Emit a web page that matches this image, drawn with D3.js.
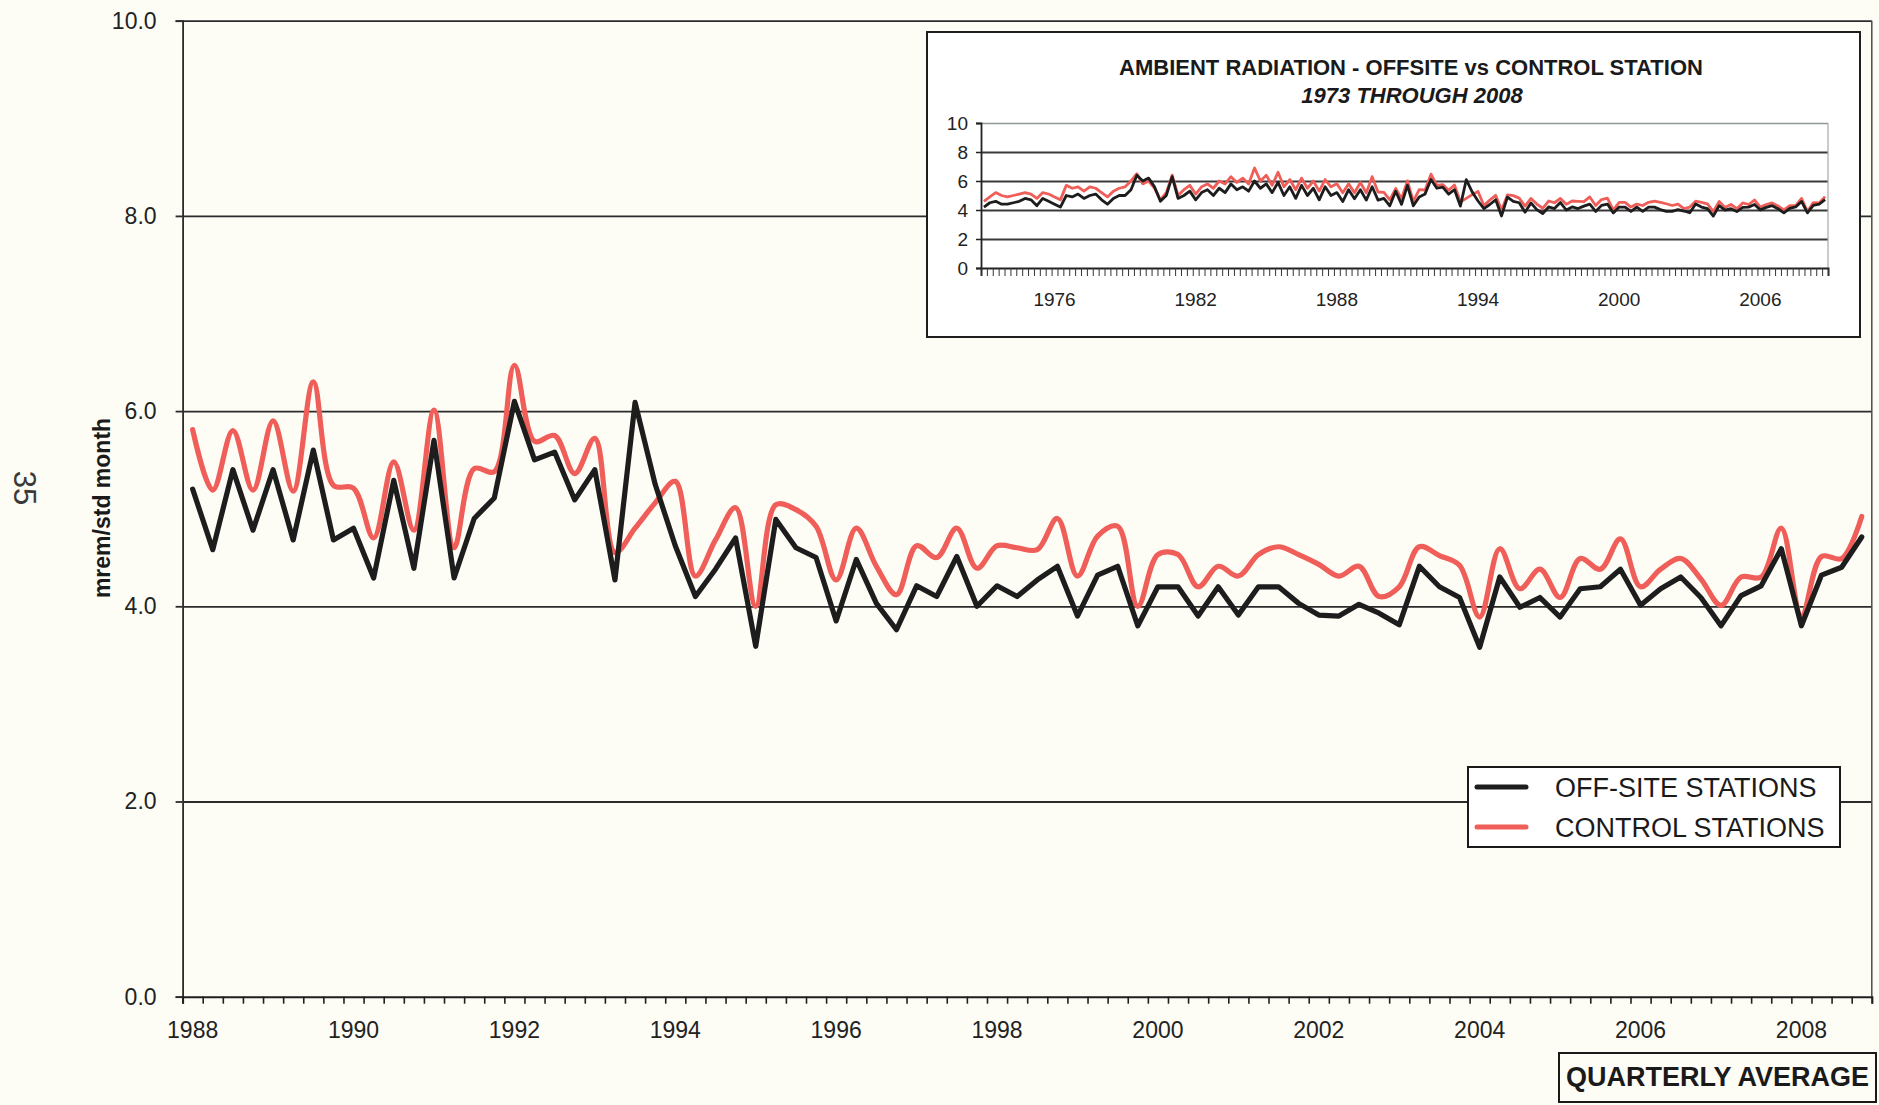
<!DOCTYPE html>
<html>
<head>
<meta charset="utf-8">
<script src="https://cdn.jsdelivr.net/npm/d3@7"></script>
<style>
  html, body { margin: 0; padding: 0; background: #fdfdf6; }
  svg { display: block; font-family: "Liberation Sans", Arial, Helvetica, sans-serif; }
</style>
</head>
<body>
<svg id="chart" width="1879" height="1105"></svg>
<script>
// ---- data ------------------------------------------------------------------
const quarterNames = ["Q1", "Q2", "Q3", "Q4"];
const mainYears = d3.range(1988, 2009);          // 1988 .. 2008
const insetYears = d3.range(1973, 2009);         // 1973 .. 2008

// Quarterly averages, mrem/std month, 1988 Q1 .. 2008 Q4
const offsite1988to2008 = [
  5.20, 4.58, 5.40, 4.78, 5.40, 4.68, 5.60, 4.68, 4.80, 4.29,
  5.29, 4.39, 5.70, 4.29, 4.90, 5.11, 6.10, 5.50, 5.58, 5.09,
  5.40, 4.27, 6.09, 5.25, 4.62, 4.10, 4.38, 4.70, 3.59, 4.89,
  4.60, 4.50, 3.85, 4.48, 4.03, 3.76, 4.21, 4.10, 4.51, 4.00,
  4.21, 4.10, 4.27, 4.41, 3.90, 4.32, 4.41, 3.80, 4.20, 4.20,
  3.90, 4.20, 3.91, 4.20, 4.20, 4.03, 3.91, 3.90, 4.02, 3.93,
  3.81, 4.41, 4.20, 4.09, 3.58, 4.30, 3.99, 4.09, 3.89, 4.18,
  4.20, 4.38, 4.01, 4.18, 4.30, 4.09, 3.80, 4.11, 4.21, 4.59,
  3.80, 4.32, 4.40, 4.71
];
const control1988to2008 = [
  5.81, 5.19, 5.80, 5.19, 5.90, 5.18, 6.30, 5.24, 5.21, 4.70,
  5.48, 4.78, 6.01, 4.60, 5.41, 5.38, 6.47, 5.69, 5.75, 5.36,
  5.72, 4.55, 4.80, 5.06, 5.28, 4.31, 4.68, 5.01, 4.00, 5.04,
  4.99, 4.82, 4.27, 4.80, 4.41, 4.12, 4.62, 4.50, 4.80, 4.39,
  4.62, 4.60, 4.58, 4.90, 4.31, 4.72, 4.82, 4.00, 4.53, 4.53,
  4.20, 4.41, 4.31, 4.53, 4.61, 4.53, 4.43, 4.31, 4.41, 4.10,
  4.20, 4.61, 4.52, 4.42, 3.89, 4.59, 4.18, 4.38, 4.09, 4.49,
  4.38, 4.69, 4.20, 4.38, 4.49, 4.28, 4.01, 4.30, 4.30, 4.80,
  3.90, 4.51, 4.49, 4.92
];

// Earlier record shown only in the long-term panel, 1973 Q1 .. 1987 Q4
const offsite1973to1987 = [
  4.2, 4.5, 4.6, 4.4,  4.4, 4.5, 4.6, 4.8,  4.7, 4.3, 4.8, 4.6,
  4.4, 4.2, 5.0, 4.9,  5.1, 4.8, 5.0, 5.1,  4.7, 4.4, 4.8, 5.0,
  5.0, 5.4, 6.4, 6.0,  6.2, 5.6, 4.6, 5.0,  6.3, 4.8, 5.0, 5.3,
  4.7, 5.2, 5.4, 5.0,  5.5, 5.2, 5.8, 5.4,  5.6, 5.3, 6.0, 5.5,
  5.8, 5.2, 5.9, 5.0,  5.6, 4.8, 5.7, 5.0,  5.5, 4.7, 5.6, 5.0
];
const control1973to1987 = [
  4.6, 4.9, 5.2, 5.0,  4.9, 5.0, 5.1, 5.2,  5.1, 4.8, 5.2, 5.1,
  4.9, 4.7, 5.7, 5.5,  5.6, 5.3, 5.6, 5.5,  5.2, 4.9, 5.3, 5.5,
  5.6, 6.0, 6.5, 5.8,  6.0, 5.5, 4.7, 5.2,  6.4, 5.0, 5.4, 5.7,
  5.1, 5.6, 5.8, 5.5,  6.0, 5.8, 6.3, 5.9,  6.2, 5.8, 6.9, 6.0,
  6.4, 5.7, 6.6, 5.6,  6.1, 5.4, 6.2, 5.5,  6.0, 5.3, 6.1, 5.6
];

const mainYTicks = [0, 2, 4, 6, 8, 10];
const mainLabelYears = [1988, 1990, 1992, 1994, 1996, 1998, 2000, 2002, 2004, 2006, 2008];
const insetYTicks = [0, 2, 4, 6, 8, 10];
const insetLabelYears = [1976, 1982, 1988, 1994, 2000, 2006];

const seriesNames = ["OFF-SITE STATIONS", "CONTROL STATIONS"];
const insetTitle = "AMBIENT RADIATION - OFFSITE vs CONTROL STATION";
const insetSubtitle = "1973 THROUGH 2008";

// ---- helpers ---------------------------------------------------------------
const quartersOf = years => years.flatMap(yr => quarterNames.map(q => `${yr} ${q}`));
const mainQuarters = quartersOf(mainYears);
const insetQuarters = quartersOf(insetYears);
const insetOffsite = offsite1973to1987.concat(offsite1988to2008);
const insetControl = control1973to1987.concat(control1988to2008);

const INK = "#1d1d1d";
const RED = "#ef5e58";
const PAPER = "#fdfdf6";

const svg = d3.select("#chart");
svg.append("rect").attr("width", 1879).attr("height", 1105).attr("fill", PAPER);

// ---- main chart ------------------------------------------------------------
const pLeft = 182.6, pRight = 1871.8, pTop = 20.7, pBottom = 996.7;
const x = d3.scaleBand().domain(mainQuarters).range([pLeft, pRight]);
const xEdge = d3.scaleLinear().domain([0, mainQuarters.length]).range([pLeft, pRight]);
const y = d3.scaleLinear().domain([0, 10]).range([pBottom, pTop]);
const cx = (d, i) => x(mainQuarters[i]) + x.bandwidth() / 2;

// horizontal gridlines
const grid = svg.append("g")
  .attr("transform", `translate(${pLeft},0)`)
  .call(d3.axisLeft(y).tickValues(mainYTicks.filter(v => v > 0)).tickSize(-(pRight - pLeft)).tickFormat(""));
grid.select(".domain").remove();
grid.selectAll("line").attr("stroke", "#2b2b2b").attr("stroke-width", 1.8);

// right border of the plot area
svg.append("line")
  .attr("x1", pRight).attr("x2", pRight).attr("y1", pTop).attr("y2", pBottom)
  .attr("stroke", "#4a4a4a").attr("stroke-width", 1.5);

// y axis
const yAxis = svg.append("g")
  .attr("transform", `translate(${pLeft},0)`)
  .call(d3.axisLeft(y).tickValues(mainYTicks).tickSize(7).tickPadding(19).tickFormat(d3.format(".1f")));
yAxis.select(".domain").attr("stroke", "#2b2b2b").attr("stroke-width", 1.8);
yAxis.selectAll("line").attr("stroke", "#2b2b2b").attr("stroke-width", 1.8);
yAxis.selectAll("text").attr("font-size", 23).attr("fill", "#222").attr("font-family", null);

// x axis: tick marks between quarters
const xTicks = svg.append("g")
  .attr("transform", `translate(0,${pBottom})`)
  .call(d3.axisBottom(xEdge).tickValues(d3.range(0, mainQuarters.length + 1)).tickSize(7).tickFormat(""));
xTicks.select(".domain").attr("stroke", "#1f1f1f").attr("stroke-width", 2);
xTicks.selectAll("line").attr("stroke", "#1f1f1f").attr("stroke-width", 1.6);

// x axis: year labels on first quarter of even years
const xLabels = svg.append("g")
  .attr("transform", `translate(0,${pBottom})`)
  .call(d3.axisBottom(x).tickValues(mainLabelYears.map(yr => `${yr} Q1`)).tickSize(0).tickPadding(25)
        .tickFormat(d => d.slice(0, 4)));
xLabels.select(".domain").remove();
xLabels.selectAll("text").attr("font-size", 23).attr("fill", "#222").attr("font-family", null);

// y axis title
svg.append("text")
  .attr("transform", "translate(110,508) rotate(-90)")
  .attr("text-anchor", "middle").attr("font-size", 23).attr("font-weight", "bold").attr("fill", "#1a1a1a")
  .text("mrem/std month");

// page number along the left margin
svg.append("text")
  .attr("transform", "translate(14,488) rotate(90)")
  .attr("text-anchor", "middle").attr("font-size", 31).attr("fill", "#3a3a3a")
  .text("35");

// series lines
svg.append("path")
  .datum(control1988to2008)
  .attr("fill", "none").attr("stroke", RED).attr("stroke-width", 5.2)
  .attr("stroke-linejoin", "round").attr("stroke-linecap", "round")
  .attr("d", d3.line().x(cx).y(d => y(d)).curve(d3.curveCatmullRom.alpha(0.5)));
svg.append("path")
  .datum(offsite1988to2008)
  .attr("fill", "none").attr("stroke", INK).attr("stroke-width", 5.2)
  .attr("stroke-linejoin", "round").attr("stroke-linecap", "round")
  .attr("d", d3.line().x(cx).y(d => y(d)));

// legend
const legend = svg.append("g");
legend.append("rect")
  .attr("x", 1468).attr("y", 767).attr("width", 372).attr("height", 80)
  .attr("fill", "#ffffff").attr("stroke", "#1a1a1a").attr("stroke-width", 2);
[INK, RED].forEach((col, k) => {
  const ly = 787 + k * 40;
  legend.append("line")
    .attr("x1", 1477).attr("x2", 1526).attr("y1", ly).attr("y2", ly)
    .attr("stroke", col).attr("stroke-width", 5).attr("stroke-linecap", "round");
  legend.append("text")
    .attr("x", 1555).attr("y", ly + 10)
    .attr("font-size", 27).attr("fill", "#1a1a1a")
    .text(seriesNames[k]);
});

// averaging period note
svg.append("rect")
  .attr("x", 1559).attr("y", 1053).attr("width", 317).attr("height", 49)
  .attr("fill", PAPER).attr("stroke", "#1a1a1a").attr("stroke-width", 2);
svg.append("text")
  .attr("x", 1717.5).attr("y", 1086).attr("text-anchor", "middle")
  .attr("font-size", 27).attr("font-weight", "bold").attr("fill", "#1a1a1a")
  .text("QUARTERLY AVERAGE");

// ---- long-term panel (1973-2008) --------------------------------------------
const inset = svg.append("g");
inset.append("rect")
  .attr("x", 927).attr("y", 32).attr("width", 933).attr("height", 305)
  .attr("fill", "#ffffff").attr("stroke", "#1e1e1e").attr("stroke-width", 2);
inset.append("text")
  .attr("x", 1411).attr("y", 75).attr("text-anchor", "middle")
  .attr("font-size", 22).attr("font-weight", "bold").attr("fill", "#1a1a1a")
  .text(insetTitle);
inset.append("text")
  .attr("x", 1412).attr("y", 103).attr("text-anchor", "middle")
  .attr("font-size", 22).attr("font-weight", "bold").attr("font-style", "italic").attr("fill", "#1a1a1a")
  .text(insetSubtitle);

const iLeft = 981, iRight = 1828, iTop = 123, iBottom = 268;
const xi = d3.scaleBand().domain(insetQuarters).range([iLeft, iRight]);
const xiEdge = d3.scaleLinear().domain([0, insetQuarters.length]).range([iLeft, iRight]);
const yi = d3.scaleLinear().domain([0, 10]).range([iBottom, iTop]);
const cxi = (d, i) => xi(insetQuarters[i]) + xi.bandwidth() / 2;

const iGrid = inset.append("g")
  .attr("transform", `translate(${iLeft},0)`)
  .call(d3.axisLeft(yi).tickValues(insetYTicks.filter(v => v > 0)).tickSize(-(iRight - iLeft)).tickFormat(""));
iGrid.select(".domain").remove();
iGrid.selectAll("line")
  .attr("stroke", d => d === 10 ? "#8f9898" : "#3a3a3a")
  .attr("stroke-width", d => d === 10 ? 1.5 : 1.9);

inset.append("line")
  .attr("x1", iRight).attr("x2", iRight).attr("y1", iTop).attr("y2", iBottom)
  .attr("stroke", "#a8a8a8").attr("stroke-width", 1.2);

const iYAxis = inset.append("g")
  .attr("transform", `translate(${iLeft},0)`)
  .call(d3.axisLeft(yi).tickValues(insetYTicks).tickSize(5).tickPadding(8));
iYAxis.select(".domain").attr("stroke", "#222").attr("stroke-width", 1.8);
iYAxis.selectAll("line").attr("stroke", "#222").attr("stroke-width", 1.5);
iYAxis.selectAll("text").attr("font-size", 19).attr("fill", "#222").attr("font-family", null);

const iXTicks = inset.append("g")
  .attr("transform", `translate(0,${iBottom})`)
  .call(d3.axisBottom(xiEdge).tickValues(d3.range(0, insetQuarters.length + 1)).tickSize(8).tickFormat(""));
iXTicks.select(".domain").attr("stroke", "#222").attr("stroke-width", 2);
iXTicks.selectAll("line").attr("stroke", "#333").attr("stroke-width", 1);

const iXLabels = inset.append("g")
  .attr("transform", `translate(0,${iBottom})`)
  .call(d3.axisBottom(xi).tickValues(insetLabelYears.map(yr => `${yr} Q1`)).tickSize(0).tickPadding(25)
        .tickFormat(d => d.slice(0, 4)));
iXLabels.select(".domain").remove();
iXLabels.selectAll("text").attr("font-size", 19).attr("fill", "#222").attr("font-family", null);

inset.append("path")
  .datum(insetControl)
  .attr("fill", "none").attr("stroke", RED).attr("stroke-width", 2.8).attr("stroke-linejoin", "round")
  .attr("d", d3.line().x(cxi).y(d => yi(d)));
inset.append("path")
  .datum(insetOffsite)
  .attr("fill", "none").attr("stroke", INK).attr("stroke-width", 2.8).attr("stroke-linejoin", "round")
  .attr("d", d3.line().x(cxi).y(d => yi(d)));
</script>
</body>
</html>
